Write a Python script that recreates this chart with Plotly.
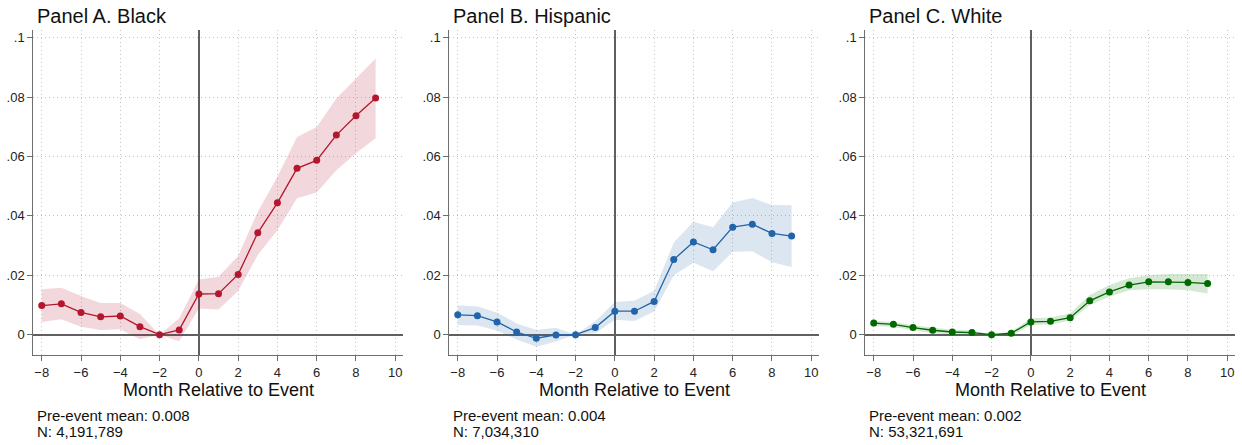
import plotly.graph_objects as go

# Event time (months relative to event)
months = [-8, -7, -6, -5, -4, -3, -2, -1, 0, 1, 2, 3, 4, 5, 6, 7, 8, 9]

# Panel A. Black
black_coef = [0.0098, 0.0104, 0.0075, 0.0060, 0.0063, 0.0027, 0.0, 0.0016, 0.0137,
              0.0138, 0.0203, 0.0343, 0.0444, 0.0560, 0.0587, 0.0672, 0.0737, 0.0797]
black_hi = [0.0153, 0.0158, 0.0130, 0.0107, 0.0107, 0.0070, 0.0, 0.0055, 0.0186,
            0.0195, 0.0265, 0.0414, 0.0532, 0.0666, 0.0699, 0.0795, 0.0863, 0.0930]
black_lo = [0.0043, 0.0052, 0.0027, 0.0016, 0.0018, -0.0015, 0.0, -0.0022, 0.0088,
            0.0085, 0.0147, 0.0268, 0.0352, 0.0459, 0.0479, 0.0554, 0.0611, 0.0661]

# Panel B. Hispanic
hisp_coef = [0.0067, 0.0064, 0.0043, 0.0009, -0.0012, -0.0001, 0.0, 0.0024, 0.0079,
             0.0079, 0.0112, 0.0253, 0.0312, 0.0286, 0.0362, 0.0372, 0.0341, 0.0332]
hisp_hi = [0.0099, 0.0095, 0.0075, 0.0038, 0.0016, 0.0023, 0.0, 0.0045, 0.0110,
           0.0114, 0.0148, 0.0310, 0.0380, 0.0362, 0.0445, 0.0460, 0.0437, 0.0436]
hisp_lo = [0.0033, 0.0031, 0.0014, -0.0016, -0.0041, -0.0023, 0.0, 0.0005, 0.0050,
           0.0046, 0.0078, 0.0200, 0.0242, 0.0214, 0.0279, 0.0281, 0.0244, 0.0228]

# Panel C. White
white_coef = [0.0039, 0.0035, 0.0024, 0.0015, 0.0009, 0.0007, 0.0, 0.0005, 0.0043,
              0.0045, 0.0057, 0.0114, 0.0144, 0.0167, 0.0178, 0.0178, 0.0176, 0.0172]
white_hi = [0.0047, 0.0043, 0.0032, 0.0024, 0.0017, 0.0015, 0.0, 0.0010, 0.0055,
            0.0058, 0.0072, 0.0134, 0.0167, 0.0190, 0.0201, 0.0204, 0.0204, 0.0204]
white_lo = [0.0029, 0.0026, 0.0015, 0.0005, 0.0001, 0.0000, 0.0, -0.0004, 0.0033,
            0.0035, 0.0047, 0.0100, 0.0128, 0.0150, 0.0153, 0.0153, 0.0150, 0.0139]

panel_titles = ["Panel A. Black", "Panel B. Hispanic", "Panel C. White"]
pre_means = ["0.008", "0.004", "0.002"]
sample_sizes = ["4,191,789", "7,034,310", "53,321,691"]

x_ticks = [-8, -6, -4, -2, 0, 2, 4, 6, 8, 10]
y_ticks = [0, 0.02, 0.04, 0.06, 0.08, 0.1]
y_tick_text = ["0", ".02", ".04", ".06", ".08", ".1"]

W, H = 1242, 445
FONT = "Liberation Sans, Arial, sans-serif"

series = [
    (black_coef, black_lo, black_hi, "rgb(180,23,45)", "rgba(180,23,45,0.17)"),
    (hisp_coef, hisp_lo, hisp_hi, "rgb(34,100,170)", "rgba(34,100,170,0.16)"),
    (white_coef, white_lo, white_hi, "rgb(0,105,0)", "rgba(0,120,0,0.17)"),
]

# plot-area geometry in pixels
axis_left_px = [33.3, 449.3, 865.3]
plot_w_px = 370.0
plot_top_px, plot_bot_px = 30.0, 355.0

fig = go.Figure()

for i, (coef, lo, hi, line_c, band_c) in enumerate(series):
    n = "" if i == 0 else str(i + 1)
    xa, ya = "x" + n, "y" + n
    # confidence band
    fig.add_trace(go.Scatter(x=months + months[::-1], y=hi + lo[::-1], fill="toself",
                             fillcolor=band_c, line=dict(width=0), mode="lines",
                             hoverinfo="skip", showlegend=False, xaxis=xa, yaxis=ya))
    # point estimates
    fig.add_trace(go.Scatter(x=months, y=coef, mode="lines+markers",
                             line=dict(color=line_c, width=1.3),
                             marker=dict(color=line_c, size=7),
                             showlegend=False, xaxis=xa, yaxis=ya))

    left = axis_left_px[i]
    d0, d1 = left / W, (left + plot_w_px) / W
    axis_common = dict(showline=True, linecolor="#6e6e6e", linewidth=1,
                       ticks="outside", ticklen=5, tickcolor="#6e6e6e",
                       showgrid=True, gridcolor="#c4c4c4", griddash="1px,3px", gridwidth=1,
                       zeroline=True, zerolinecolor="#606060", zerolinewidth=1.6,
                       tickfont=dict(family=FONT, size=13, color="#222"))
    fig.layout["xaxis" + n] = dict(domain=[d0, d1], range=[-8.43, 10.41],
                                   tickvals=x_ticks, anchor=ya, **axis_common)
    fig.layout["yaxis" + n] = dict(domain=[1 - plot_bot_px / H, 1 - plot_top_px / H],
                                   range=[-0.00684, 0.10259], tickvals=y_ticks,
                                   ticktext=y_tick_text, anchor=xa, **axis_common)

    # panel title
    fig.add_annotation(text=panel_titles[i], xref="paper", yref="paper",
                       x=(left + 2) / W, y=1 - 16 / H, xanchor="left", yanchor="middle",
                       showarrow=False, font=dict(family=FONT, size=20, color="#111"))
    # x-axis title
    fig.add_annotation(text="Month Relative to Event", xref="paper", yref="paper",
                       x=(left + plot_w_px / 2) / W, y=1 - 390 / H,
                       xanchor="center", yanchor="middle", showarrow=False,
                       font=dict(family=FONT, size=18, color="#111"))
    # notes below each panel
    fig.add_annotation(text="Pre-event mean: " + pre_means[i], xref="paper", yref="paper",
                       x=(left + 2) / W, y=1 - 415.5 / H, xanchor="left", yanchor="middle",
                       showarrow=False, font=dict(family=FONT, size=15, color="#111"))
    fig.add_annotation(text="N: " + sample_sizes[i], xref="paper", yref="paper",
                       x=(left + 2) / W, y=1 - 431.5 / H, xanchor="left", yanchor="middle",
                       showarrow=False, font=dict(family=FONT, size=15, color="#111"))

fig.update_layout(width=W, height=H, margin=dict(l=0, r=0, t=0, b=0),
                  paper_bgcolor="white", plot_bgcolor="white")

fig.write_html("out.html")
